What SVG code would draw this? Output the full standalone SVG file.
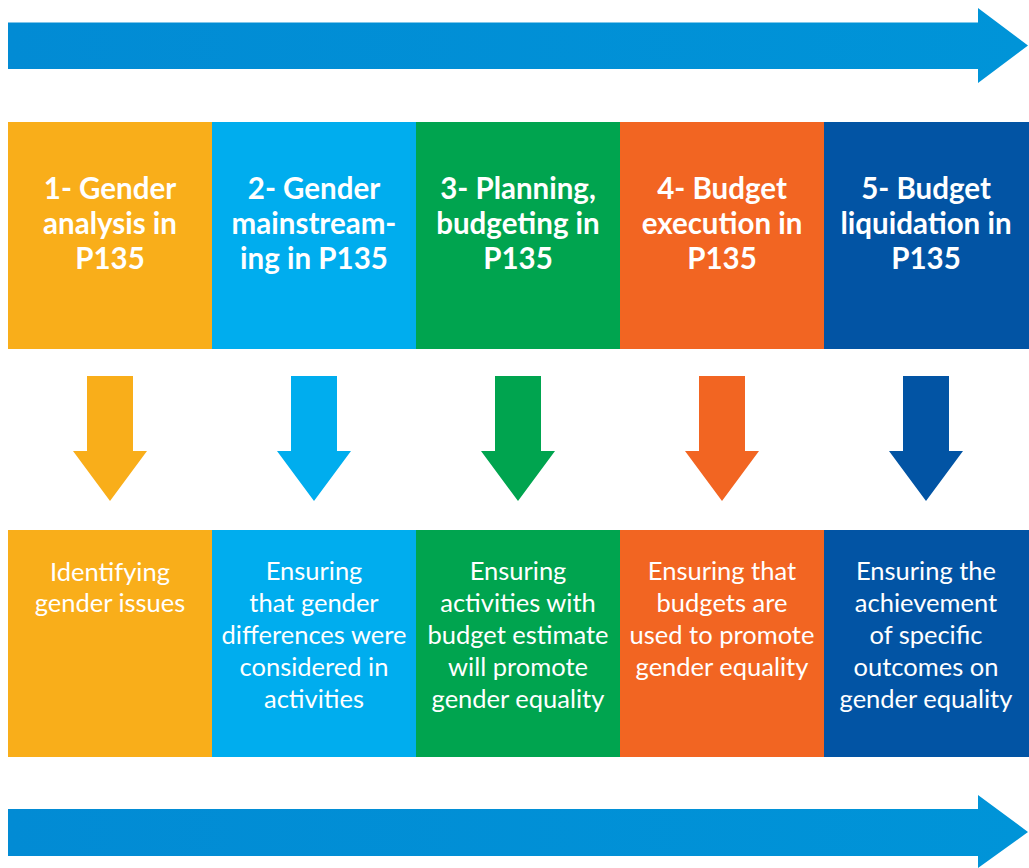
<svg xmlns="http://www.w3.org/2000/svg" width="1029" height="868" viewBox="0 0 1029 868">
  <defs>
    <linearGradient id="flow" x1="0" y1="0" x2="1" y2="0">
      <stop offset="0" stop-color="#028bd4"/>
      <stop offset="1" stop-color="#0094d8"/>
    </linearGradient>
    <!-- down arrow shape centred on x=0 -->
    <path id="down" d="M-23,376 H23 V451 H37 L0,501 L-37,451 H-23 Z"/>
  </defs>
  <style>
    .head { font-family: Lato, "Liberation Sans", sans-serif; font-weight: 700; font-size: 29.5px; fill: #ffffff; text-anchor: middle; }
    .body { font-family: Lato, "Liberation Sans", sans-serif; font-weight: 400; font-size: 25.5px; fill: #ffffff; text-anchor: middle; }
    .c1 { fill: #f9ae1a; }
    .c2 { fill: #00adee; }
    .c3 { fill: #00a44f; }
    .c4 { fill: #f26522; }
    .c5 { fill: #0254a4; }
  </style>

  <!-- timeline arrows -->
  <g id="connectors">
    <path d="M8,22.5 H978 V8 L1028,45.5 L978,83 V69 H8 Z" fill="url(#flow)"/>
    <path d="M8,809 H978 V795 L1028,832 L978,868 V856 H8 Z" fill="url(#flow)"/>
  </g>

  <g id="step1">
    <rect class="c1" x="8" y="122" width="204" height="227"/>
    <text class="head"><tspan x="110" y="199">1- Gender</tspan><tspan x="110" y="234">analysis in</tspan><tspan x="110" y="269">P135</tspan></text>
    <use href="#down" x="110" class="c1"/>
    <rect class="c1" x="8" y="530" width="204" height="227"/>
    <text class="body"><tspan x="110" y="581">Identifying</tspan><tspan x="110" y="612">gender issues</tspan></text>
  </g>

  <g id="step2">
    <rect class="c2" x="212" y="122" width="204" height="227"/>
    <text class="head"><tspan x="314" y="199">2- Gender</tspan><tspan x="314" y="234">mainstream-</tspan><tspan x="314" y="269">ing in P135</tspan></text>
    <use href="#down" x="314" class="c2"/>
    <rect class="c2" x="212" y="530" width="204" height="227"/>
    <text class="body"><tspan x="314" y="580">Ensuring</tspan><tspan x="314" y="612">that gender</tspan><tspan x="314" y="644">differences were</tspan><tspan x="314" y="676">considered in</tspan><tspan x="314" y="708">activities</tspan></text>
  </g>

  <g id="step3">
    <rect class="c3" x="416" y="122" width="204" height="227"/>
    <text class="head"><tspan x="518" y="199">3- Planning,</tspan><tspan x="518" y="234">budgeting in</tspan><tspan x="518" y="269">P135</tspan></text>
    <use href="#down" x="518" class="c3"/>
    <rect class="c3" x="416" y="530" width="204" height="227"/>
    <text class="body"><tspan x="518" y="580">Ensuring</tspan><tspan x="518" y="612">activities with</tspan><tspan x="518" y="644">budget estimate</tspan><tspan x="518" y="676">will promote</tspan><tspan x="518" y="708">gender equality</tspan></text>
  </g>

  <g id="step4">
    <rect class="c4" x="620" y="122" width="204" height="227"/>
    <text class="head"><tspan x="722" y="199">4- Budget</tspan><tspan x="722" y="234">execution in</tspan><tspan x="722" y="269">P135</tspan></text>
    <use href="#down" x="722" class="c4"/>
    <rect class="c4" x="620" y="530" width="204" height="227"/>
    <text class="body"><tspan x="722" y="580">Ensuring that</tspan><tspan x="722" y="612">budgets are</tspan><tspan x="722" y="644">used to promote</tspan><tspan x="722" y="676">gender equality</tspan></text>
  </g>

  <g id="step5">
    <rect class="c5" x="824" y="122" width="205" height="227"/>
    <text class="head"><tspan x="926" y="199">5- Budget</tspan><tspan x="926" y="234">liquidation in</tspan><tspan x="926" y="269">P135</tspan></text>
    <use href="#down" x="926" class="c5"/>
    <rect class="c5" x="824" y="530" width="205" height="227"/>
    <text class="body"><tspan x="926" y="580">Ensuring the</tspan><tspan x="926" y="612">achievement</tspan><tspan x="926" y="644">of specific</tspan><tspan x="926" y="676">outcomes on</tspan><tspan x="926" y="708">gender equality</tspan></text>
  </g>
</svg>
